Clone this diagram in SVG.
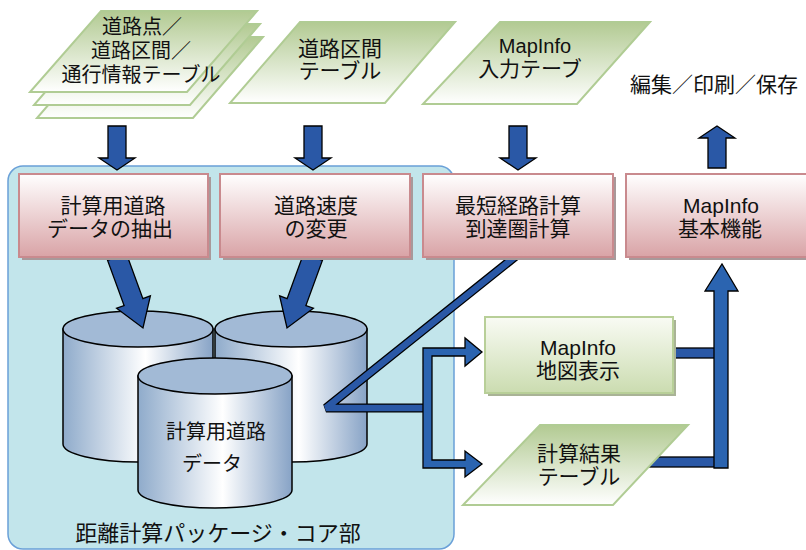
<svg xmlns="http://www.w3.org/2000/svg" width="806" height="550" viewBox="0 0 806 550">
<defs>
<linearGradient id="gSheet" x1="0" y1="0" x2="0" y2="1">
<stop offset="0" stop-color="#b2ca92"/><stop offset="1" stop-color="#ffffff"/>
</linearGradient>
<linearGradient id="gPink" x1="0" y1="0" x2="0" y2="1">
<stop offset="0" stop-color="#ffffff"/><stop offset="1" stop-color="#d9a3a6"/>
</linearGradient>
<linearGradient id="gGreenBox" x1="0" y1="0" x2="0" y2="1">
<stop offset="0" stop-color="#f9fbf4"/><stop offset="1" stop-color="#cbdcb0"/>
</linearGradient>
<linearGradient id="gCyl" x1="0" y1="0" x2="1" y2="0">
<stop offset="0" stop-color="#8fabcb"/><stop offset="0.55" stop-color="#ffffff"/><stop offset="1" stop-color="#87a3c6"/>
</linearGradient>
<style>
.t{font-family:"Liberation Sans","Noto Sans CJK JP",sans-serif;fill:#111;text-anchor:middle}
.sheet{fill:url(#gSheet);stroke:#b0cc94;stroke-width:2}
.pink{fill:url(#gPink);stroke:#c98a8e;stroke-width:2}
.shadow{fill:#a8999a}
.arr{fill:#2a58a6;stroke:#000;stroke-width:1.3;stroke-linejoin:miter}
.arr2{fill:#2b64b0;stroke:#000;stroke-width:1.3}
.cyl{fill:url(#gCyl);stroke:#000;stroke-width:1.5}
.cyltop{fill:#a2bad6;stroke:#000;stroke-width:1.5}
</style>
</defs>
<rect width="806" height="550" fill="#ffffff"/>

<g id="panel">
<rect x="8" y="166" width="446" height="383" rx="15" fill="#c2e5eb" stroke="#6aa0d8" stroke-width="1.5"/>
<text class="t" x="218" y="541" font-size="22">距離計算パッケージ・コア部</text>
</g>

<g id="input-sheets">
<polygon class="sheet" points="37,118 193,118 263,37 107,37"/>
<polygon class="sheet" points="34,105 190,105 260,24 104,24"/>
<polygon class="sheet" points="30,92 187,92 257,11 101,11"/>
<text class="t" font-size="20"><tspan x="142" y="34">道路点／</tspan><tspan x="141" y="58">道路区間／</tspan><tspan x="141" y="82">通行情報テーブル</tspan></text>
</g>

<g id="road-section-table">
<polygon class="sheet" points="230,103 385,103 455,22 300,22"/>
<text class="t" font-size="21"><tspan x="340" y="56">道路区間</tspan><tspan x="340" y="78">テーブル</tspan></text>
</g>

<g id="mapinfo-input-table">
<polygon class="sheet" points="423,104 577,104 650,22 500,22"/>
<text class="t" font-size="21"><tspan x="535" y="53" font-size="20">MapInfo</tspan><tspan x="530" y="76">入力テーブ</tspan></text>
</g>

<g id="edit-label">
<text class="t" x="714" y="92" font-size="21">編集／印刷／保存</text>
</g>

<g id="cylinders">
<path class="cyl" d="M63,329 L63,444 A75,18 0 0 0 213,444 L213,329 Z"/>
<ellipse class="cyltop" cx="138" cy="329" rx="75" ry="18"/>
<path class="cyl" d="M215,329 L215,444 A76,18 0 0 0 367,444 L367,329 Z"/>
<ellipse class="cyltop" cx="291" cy="329" rx="76" ry="18"/>
<path class="cyl" d="M138,376 L138,490 A77,18 0 0 0 292,490 L292,376 Z"/>
<ellipse class="cyltop" cx="215" cy="376" rx="77" ry="18"/>
<text class="t" font-size="20"><tspan x="216" y="439">計算用道路</tspan><tspan x="212" y="471">データ</tspan></text>
</g>

<g id="connectors">
<polygon class="arr" points="108,126 126,126 126,158 135,158 117,170 99,158 108,158"/>
<polygon class="arr" points="304,126 322,126 322,158 331,158 313,170 295,158 304,158"/>
<polygon class="arr" points="509,126 527,126 527,158 536,158 518,170 500,158 509,158"/>
<polygon class="arr" points="708,168 726,168 726,138 735,138 717,126 699,138 708,138"/>
<polygon class="arr" transform="translate(117,257) rotate(-20.1)" points="-10,0 10,0 10,48 18,48 0,75.6 -18,48 -10,48"/>
<polygon class="arr" transform="translate(313,257) rotate(20.1)" points="-10,0 10,0 10,48 18,48 0,75.6 -18,48 -10,48"/>
<polyline points="516,256 326,408 426,408" fill="none" stroke="#000" stroke-width="9" stroke-linejoin="bevel"/>
<polyline points="516,256 326,408 426,408" fill="none" stroke="#2a58a6" stroke-width="6.5" stroke-linejoin="bevel"/>
<polygon class="arr2" points="423,348 465,348 465,338 482,352 465,366 465,356 432,356 432,460 465,460 465,451 482,464 465,477 465,468 423,468"/>
<rect class="arr" x="673" y="348" width="42" height="10"/>
<rect class="arr" x="640" y="457" width="75" height="10"/>
<polygon class="arr2" points="714,468 728,468 728,291 738,291 722,264 705,291 714,291"/>
</g>

<g id="box-extract">
<rect class="shadow" x="22" y="177" width="189" height="83"/>
<rect class="pink" x="19" y="174" width="189" height="83"/>
<text class="t" font-size="21"><tspan x="113" y="213">計算用道路</tspan><tspan x="110" y="236">データの抽出</tspan></text>
</g>

<g id="box-speed">
<rect class="shadow" x="223" y="177" width="190" height="83"/>
<rect class="pink" x="220" y="174" width="190" height="83"/>
<text class="t" font-size="21"><tspan x="316" y="213">道路速度</tspan><tspan x="316" y="236">の変更</tspan></text>
</g>

<g id="box-shortest">
<rect class="shadow" x="426" y="177" width="190" height="83"/>
<rect class="pink" x="423" y="174" width="190" height="83"/>
<text class="t" font-size="21"><tspan x="518" y="213">最短経路計算</tspan><tspan x="518" y="236">到達圏計算</tspan></text>
</g>

<g id="box-mapinfo-basic">
<rect class="shadow" x="629" y="177" width="190" height="83"/>
<rect class="pink" x="626" y="174" width="190" height="83"/>
<text class="t" font-size="21"><tspan x="721" y="213">MapInfo</tspan><tspan x="720" y="236">基本機能</tspan></text>
</g>

<g id="box-map-display">
<rect x="488" y="320" width="188" height="76" fill="#a9b396"/>
<rect x="485" y="317" width="188" height="76" fill="url(#gGreenBox)" stroke="#b8cf98" stroke-width="2"/>
<text class="t" font-size="21"><tspan x="578" y="355">MapInfo</tspan><tspan x="578" y="378">地図表示</tspan></text>
</g>

<g id="result-table">
<polygon class="sheet" points="463,505 613,505 688,425 540,425"/>
<text class="t" font-size="21"><tspan x="579" y="461">計算結果</tspan><tspan x="579" y="484">テーブル</tspan></text>
</g>
</svg>
